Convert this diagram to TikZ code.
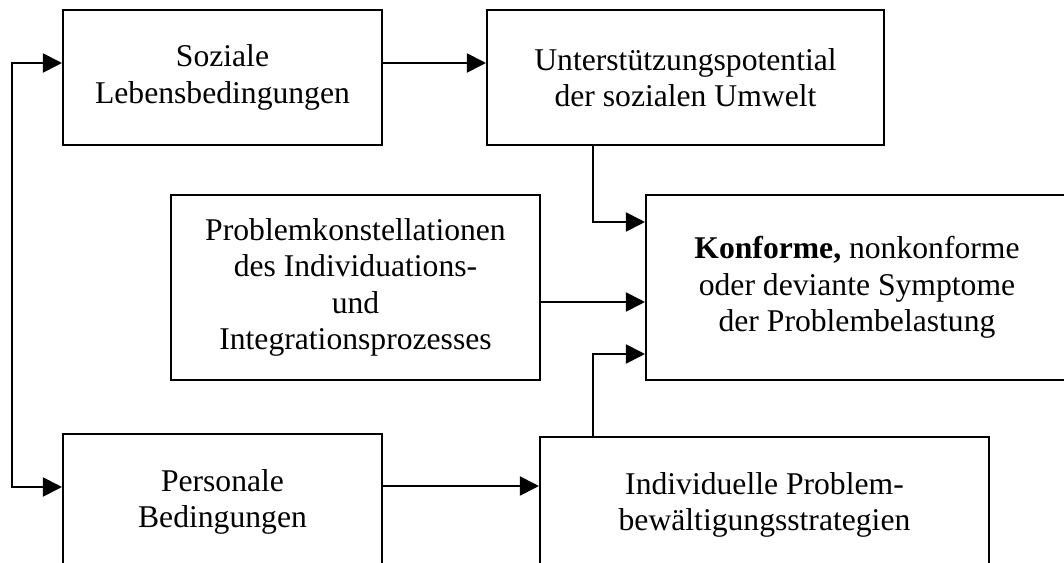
\documentclass[tikz,border=0pt]{standalone}
\usepackage{fontspec}
\setmainfont{Liberation Serif}
\usepackage{tikz}
\usepackage{tkz-euclide}
\usetikzlibrary{arrows.meta}

\begin{document}
\begin{tikzpicture}[x=0.025cm, y=-0.025cm,
caixa/.style={draw, line width=1.4pt, align=center, inner sep=0pt, font=\fontsize{22.5}{26}\selectfont},
seta/.style={line width=1.4pt, -{Triangle[length=0.48cm,width=0.48cm]}},
setadupla/.style={line width=1.4pt, {Triangle[length=0.48cm,width=0.48cm]}-{Triangle[length=0.48cm,width=0.48cm]}}] %estilos das caixas e das setas

%O comando \tkzDefPoints define os centros das caixas e os pontos de dobra das setas (x/y/NomedoPonto)
\tkzDefPoints{
222.5/77.5/S1,
685.5/77.5/S2,
355.5/287.5/S3,
857/287.5/S4,
222.5/502/S5,
764.5/505/S6,
12/63/A,
12/487/B,
593/222/C,
593/354/D,
600/302/E,
450/486/F}

\useasboundingbox (0,0) rectangle (1064,563);
\clip (0,0) rectangle (1064,563);

%Caixas
%---------------------------------------------------
\node[caixa, minimum width=7.975cm, minimum height=3.375cm] (soc) at (S1) {Soziale\\Lebensbedingungen};
\node[caixa, minimum width=9.925cm, minimum height=3.375cm] (sup) at (S2) {Unterstützungspotential\\der sozialen Umwelt};
\node[caixa, minimum width=9.225cm, minimum height=4.625cm] (prob) at (S3) {Problemkonstellationen\\des Individuations-\\und\\Integrationsprozesses};
\node[caixa, minimum width=10.55cm, minimum height=4.625cm] (sint) at (S4) {\textbf{Konforme,} nonkonforme\\oder deviante Symptome\\der Problembelastung};
\node[caixa, minimum width=7.975cm, minimum height=3.4cm] (pes) at (S5) {Personale\\Bedingungen};
\node[caixa, minimum width=11.225cm, minimum height=3.4cm] (ind) at (S6) {Individuelle Problem-\\bewältigungsstrategien};
%---------------------------------------------------

%Seta dupla do lado esquerdo
%---------------------------------------------------
\draw[setadupla] (soc.west |- A) -- (A) -- (B) -- (pes.west |- B);

%Setas horizontais
%---------------------------------------------------
\draw[seta] (soc.east |- A) -- (sup.west |- A);
\draw[seta] (prob.east |- E) -- (sint.west |- E);
\draw[seta] (pes.east |- F) -- (ind.west |- F);

%Setas com dobra até a caixa dos sintomas
%---------------------------------------------------
\draw[seta] (sup.south -| C) -- (C) -- (sint.west |- C);
\draw[seta] (ind.north -| D) -- (D) -- (sint.west |- D);

\end{tikzpicture}
\end{document}
